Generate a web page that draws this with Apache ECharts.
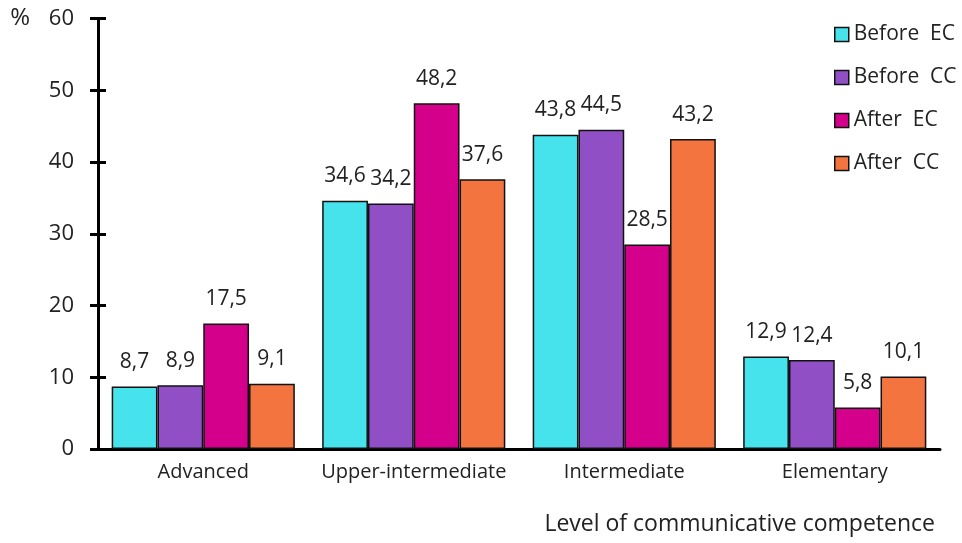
<!DOCTYPE html>
<html><head><meta charset="utf-8">
<script src="https://cdn.jsdelivr.net/npm/echarts@6/dist/echarts.min.js"></script>
<style>html,body{margin:0;padding:0;background:#fff}#c{width:962px;height:543px}</style>
</head><body><div id="c"></div>
<script>
const categories = ['Advanced', 'Upper-intermediate', 'Intermediate', 'Elementary'];
const seriesNames = ['Before  EC', 'Before  CC', 'After  EC', 'After  CC'];
const beforeEC = [8.7, 34.6, 43.8, 12.9];
const beforeCC = [8.9, 34.2, 44.5, 12.4];
const afterEC = [17.5, 48.2, 28.5, 5.8];
const afterCC = [9.1, 37.6, 43.2, 10.1];
const colors = ['#46E3EC', '#914FC6', '#D4008C', '#F4743F'];
const yTicks = [0, 10, 20, 30, 40, 50, 60];

const font = '"Open Sans", "DejaVu Sans", sans-serif';
const values = [beforeEC, beforeCC, afterEC, afterCC];
const chart = echarts.init(document.getElementById('c'));
chart.setOption({
  animation: false,
  textStyle: { fontFamily: font },
  grid: { left: 98, right: 22, top: 18.5, bottom: 94, containLabel: false },
  legend: {
    orient: 'vertical', left: 829, top: 19, itemGap: 22,
    itemWidth: 14, itemHeight: 14, icon: 'rect',
    itemStyle: { borderColor: '#111', borderWidth: 1.5 },
    textStyle: { fontFamily: font, fontSize: 21, color: '#222', padding: [0,0,0,0] },
    data: seriesNames
  },
  xAxis: {
    type: 'category', data: categories,
    axisLine: { lineStyle: { color: '#000', width: 3 } },
    axisTick: { show: false },
    axisLabel: { interval: 0, fontFamily: font, fontSize: 20, color: '#222', margin: 13 },
    name: 'Level of communicative competence', nameLocation: 'end',
    nameTextStyle: { fontFamily: font, fontSize: 23, color: '#222', align: 'right', verticalAlign: 'top', padding: [64, 0, 0, 0] },
    nameGap: -5
  },
  yAxis: [{
    type: 'value', min: 0, max: 60, interval: 10,
    axisLine: { show: true, lineStyle: { color: '#000', width: 3 } },
    axisTick: { show: true, length: 8, lineStyle: { color: '#000', width: 3 } },
    splitLine: { show: false },
    axisLabel: { fontFamily: font, fontSize: 22, color: '#222', margin: 24,
      formatter: v => yTicks.includes(v) ? String(v) : '' },
    name: '%', nameLocation: 'end', nameGap: 0,
    nameTextStyle: { fontFamily: font, fontSize: 24, color: '#222', align: 'right', verticalAlign: 'middle', padding: [0, 68, -8, 0] }
  }, {
    type: 'value', min: 0, max: 60, interval: 10, position: 'left',
    axisLine: { show: false },
    axisTick: { show: true, inside: true, length: 8, lineStyle: { color: '#000', width: 3 } },
    splitLine: { show: false }, axisLabel: { show: false }
  }],
  series: seriesNames.map((n, i) => ({
    name: n, type: 'bar', data: values[i], yAxisIndex: 0,
    barGap: '0%', barCategoryGap: '13%',
    itemStyle: { color: colors[i], borderColor: '#111', borderWidth: 1.5 },
    label: { show: true, position: 'top', distance: 14, fontFamily: font, fontSize: 21, color: '#222',
      formatter: p => String(p.value).replace('.', ',') }
  }))
});
</script></body></html>
